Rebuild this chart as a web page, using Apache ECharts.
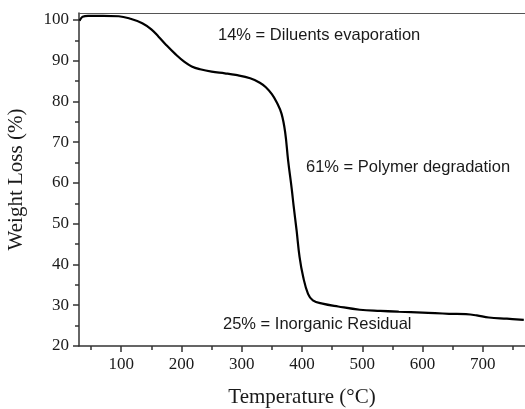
<!DOCTYPE html>
<html>
<head>
<meta charset="utf-8">
<script src="https://cdn.jsdelivr.net/npm/echarts@6/dist/echarts.min.js"></script>
<style>html,body{margin:0;padding:0;background:#fff;}#c{width:525px;height:409px;}</style>
</head>
<body>
<div id="c"></div>
<script>
const temperature = [31,33,36,45,70,96,115,135,150,162,175,190,205,217,231,250,272,290,314,330,340,350,358,366,372,377,383,386,391,396,402,410,418,434,460,496,530,561,600,644,672,690,710,740,768];
const weightLoss = [99.8,100.3,100.8,101.0,101.0,100.9,100.3,99.2,97.7,95.9,93.8,91.6,89.7,88.6,87.9,87.3,86.9,86.5,85.7,84.6,83.5,81.8,79.8,77.0,72.5,65.5,58.5,54.5,48.4,41.8,36.9,32.8,31.2,30.4,29.7,28.9,28.6,28.4,28.2,27.9,27.8,27.5,27.0,26.7,26.4];
const xMajorTicks = [100,200,300,400,500,600,700];
const xMinorTicks = [50,150,250,350,450,550,650,750];
const yMajorTicks = [20,30,40,50,60,70,80,90,100];
const yMinorTicks = [25,35,45,55,65,75,85,95];
const annotations = [
  {text: '14% = Diluents evaporation'},
  {text: '61% = Polymer degradation'},
  {text: '25% = Inorganic Residual'}
];

const axisColor = '#333';
const serif = '"Liberation Serif","Times New Roman",serif';
const chart = echarts.init(document.getElementById('c'));
const data = temperature.map((t, i) => [t, weightLoss[i]]);
const annPos = [[218, 35], [306, 167], [223, 324]];

chart.setOption({
  animation: false,
  grid: {left: 79, right: 0, top: 13, bottom: 63, containLabel: false, outerBoundsMode: 'none'},
  xAxis: [
    {
      type: 'value', min: 30, max: 770, position: 'bottom',
      name: 'Temperature (\u00B0C)', nameLocation: 'middle', nameGap: 41,
      nameTextStyle: {fontFamily: serif, fontSize: 21, color: '#1a1a1a'},
      axisLine: {show: true, onZero: false, lineStyle: {color: axisColor, width: 1.5}},
      axisTick: {show: true, customValues: xMajorTicks, length: 6, inside: false, lineStyle: {color: axisColor, width: 1.5}},
      axisLabel: {show: true, customValues: xMajorTicks, margin: 10, fontFamily: serif, fontSize: 17, color: '#1a1a1a'},
      splitLine: {show: false}
    },
    {
      type: 'value', min: 30, max: 770, position: 'bottom',
      axisLine: {show: false, onZero: false},
      axisTick: {show: true, customValues: xMinorTicks, length: 4, lineStyle: {color: axisColor, width: 1.5}},
      axisLabel: {show: false},
      splitLine: {show: false}
    },
    {
      type: 'value', min: 30, max: 770, position: 'top',
      axisLine: {show: true, onZero: false, lineStyle: {color: '#555', width: 1}},
      axisTick: {show: false}, axisLabel: {show: false}, splitLine: {show: false}
    }
  ],
  yAxis: [
    {
      type: 'value', min: 20, max: 101.7, position: 'left',
      name: 'Weight Loss (%)', nameLocation: 'middle', nameGap: 52,
      nameTextStyle: {fontFamily: serif, fontSize: 21, color: '#1a1a1a'},
      axisLine: {show: true, onZero: false, lineStyle: {color: axisColor, width: 1.5}},
      axisTick: {show: true, customValues: yMajorTicks, length: 6, lineStyle: {color: axisColor, width: 1.5}},
      axisLabel: {show: true, customValues: yMajorTicks, margin: 10, fontFamily: serif, fontSize: 17, color: '#1a1a1a'},
      splitLine: {show: false}
    },
    {
      type: 'value', min: 20, max: 101.7, position: 'left',
      axisLine: {show: false, onZero: false},
      axisTick: {show: true, customValues: yMinorTicks, length: 4, lineStyle: {color: axisColor, width: 1.5}},
      axisLabel: {show: false}, splitLine: {show: false}
    }
  ],
  series: [{
    type: 'line', data: data, xAxisIndex: 0, yAxisIndex: 0,
    showSymbol: false, smooth: 0.4,
    lineStyle: {color: '#000', width: 2.2}
  }],
  graphic: annotations.map((a, i) => ({
    type: 'text', x: annPos[i][0], y: annPos[i][1],
    style: {text: a.text, fontFamily: '"Liberation Sans",Arial,sans-serif', fontSize: 16.5, fill: '#1a1a1a', verticalAlign: 'middle', align: 'left'}
  }))
});
</script>
</body>
</html>
